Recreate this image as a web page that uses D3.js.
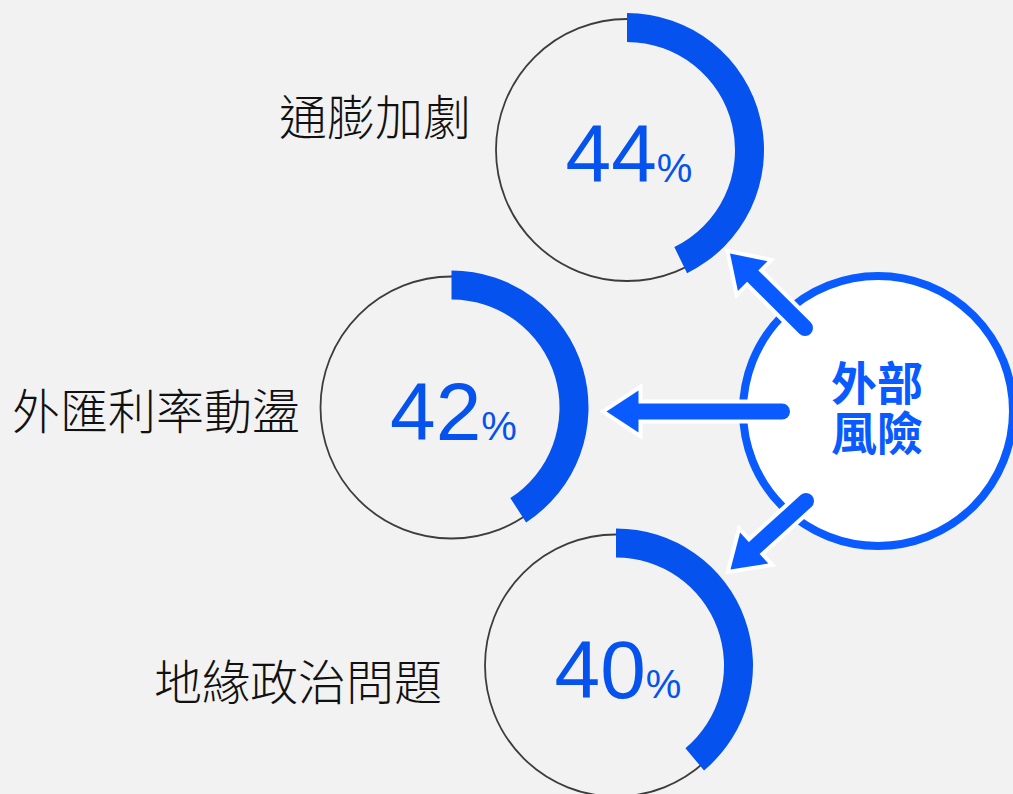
<!DOCTYPE html>
<html>
<head>
<meta charset="utf-8">
<script src="https://cdn.jsdelivr.net/npm/d3@7"></script>
<style>
  html, body { margin: 0; padding: 0; background: #f2f2f2; }
  svg { display: block; }
</style>
</head>
<body>
<svg id="chart" width="1013" height="794"></svg>
<script>
// ---- data ----
const categories = ["通膨加劇", "外匯利率動盪", "地緣政治問題"];
const values = [44, 42, 40];
const hubLabel = ["外部", "風險"];

// ---- layout ----
const centers = [[627, 150], [451.5, 407.5], [616, 665.5]];
const labelPos = [[471, 114], [300, 408], [442, 679]];
const hub = { cx: 878, cy: 411, r: 135 };
const arrows = [
  { s: [805, 328], t: [730, 253.5] },
  { s: [782, 411.5], t: [606.5, 411.5] },
  { s: [806, 501], t: [730.5, 569.5] }
];

const blue = "#0552ee";
const blue2 = "#0a5bff";

const svg = d3.select("#chart");
svg.append("rect").attr("width", 1013).attr("height", 794).attr("fill", "#f2f2f2");

const angle = d3.scaleLinear().domain([0, 100]).range([0, 2 * Math.PI * 350 / 360]);
const arc = d3.arc().innerRadius(108).outerRadius(137).startAngle(0);

const g = svg.selectAll("g.ring").data(values).join("g")
  .attr("class", "ring")
  .attr("transform", (d, i) => `translate(${centers[i][0]},${centers[i][1]})`);

g.append("circle").attr("r", 131).attr("fill", "none")
  .attr("stroke", "#3c3c3c").attr("stroke-width", 1.8);

g.append("path").attr("d", d => arc({ endAngle: angle(d) })).attr("fill", blue);

const t = g.append("text")
  .attr("x", 2).attr("y", 32)
  .attr("text-anchor", "middle")
  .attr("fill", blue)
  .attr("font-family", "'Liberation Sans', Arial, Helvetica, sans-serif");
t.append("tspan").attr("font-size", 82).text(d => d);
t.append("tspan").attr("font-size", 40).text("%");

svg.selectAll("text.cat").data(categories).join("text")
  .attr("class", "cat")
  .attr("x", (d, i) => labelPos[i][0])
  .attr("y", (d, i) => labelPos[i][1])
  .attr("text-anchor", "end")
  .attr("dominant-baseline", "central")
  .attr("font-family", "'Noto Sans CJK TC', 'Noto Sans CJK SC', sans-serif")
  .attr("font-weight", 300)
  .attr("font-size", 48)
  .attr("fill", "#111")
  .text(d => d);

// hub circle
svg.append("circle").attr("cx", hub.cx).attr("cy", hub.cy).attr("r", hub.r)
  .attr("fill", "#fff").attr("stroke", blue2).attr("stroke-width", 8);

// arrows
const headLen = 32, headHalf = 21, shaftW = 16, outline = 4;
function geom(a) {
  const dx = a.t[0] - a.s[0], dy = a.t[1] - a.s[1];
  const L = Math.hypot(dx, dy);
  const ux = dx / L, uy = dy / L, nx = -uy, ny = ux;
  const bx = a.t[0] - ux * headLen, by = a.t[1] - uy * headLen;
  return {
    shaft: [[a.s[0], a.s[1]], [bx + ux * 2, by + uy * 2]],
    head: [[a.t[0], a.t[1]], [bx + nx * headHalf, by + ny * headHalf], [bx - nx * headHalf, by - ny * headHalf]]
  };
}
const line = d3.line();
const ag = svg.selectAll("g.arrow").data(arrows.map(geom)).join("g").attr("class", "arrow");
ag.append("path").attr("d", d => line(d.shaft)).attr("stroke", "#fff")
  .attr("stroke-width", shaftW + outline * 2).attr("stroke-linecap", "round").attr("fill", "none");
ag.append("path").attr("d", d => line(d.head) + "Z").attr("fill", "#fff").attr("stroke", "#fff")
  .attr("stroke-width", outline * 2).attr("stroke-linejoin", "miter");
ag.append("path").attr("d", d => line(d.shaft)).attr("stroke", blue2)
  .attr("stroke-width", shaftW).attr("stroke-linecap", "round").attr("fill", "none");
ag.append("path").attr("d", d => line(d.head) + "Z").attr("fill", blue2);

// hub label (one text, two lines)
const ht = svg.append("text")
  .attr("class", "hub")
  .attr("text-anchor", "middle")
  .attr("font-family", "'Noto Sans CJK TC', 'Noto Sans CJK SC', sans-serif")
  .attr("font-weight", 700)
  .attr("font-size", 46)
  .attr("fill", blue2);
ht.selectAll("tspan").data(hubLabel).join("tspan")
  .attr("x", hub.cx - 1)
  .attr("y", (d, i) => 399.5 + i * 50.5)
  .text(d => d);
</script>
</body>
</html>
